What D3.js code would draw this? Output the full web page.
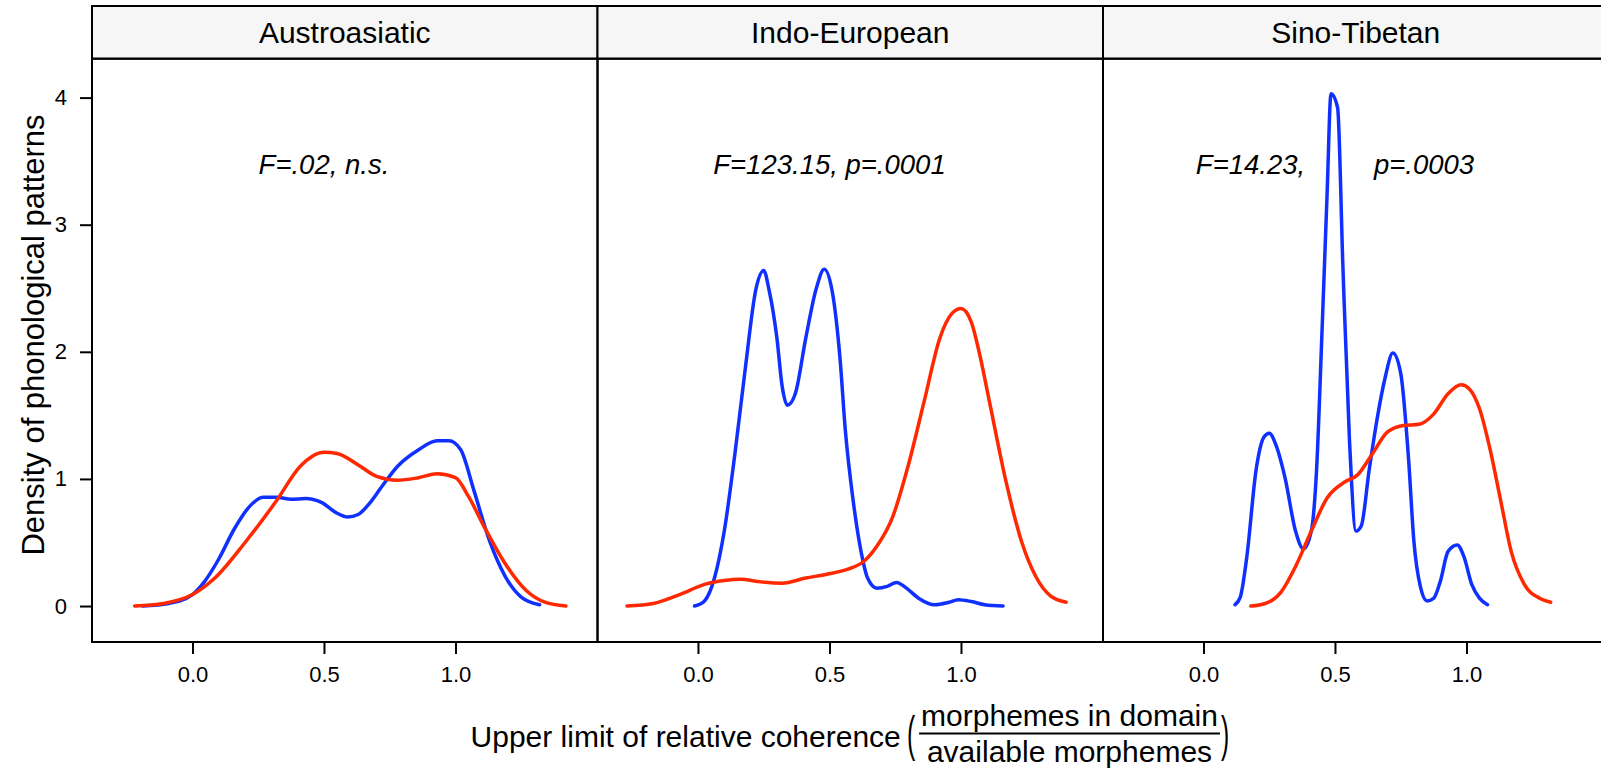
<!DOCTYPE html>
<html>
<head>
<meta charset="utf-8">
<script src="https://cdn.jsdelivr.net/npm/d3@7"></script>
<style>
  body { margin: 0; background: #fff; }
  text { font-family: "Liberation Sans", Arial, Helvetica, sans-serif; fill: #000; }
</style>
</head>
<body>
<div id="container"></div>
<script>
const WIDTH = 1601;
const HEIGHT = 770;

const PANEL_LEFT = 92;
const PANEL_W = 505.5;
const STRIP_TOP = 6;
const STRIP_H = 52.7;
const PANEL_TOP = STRIP_TOP + STRIP_H;
const PANEL_BOTTOM = 642;
const PANEL_H = PANEL_BOTTOM - PANEL_TOP;

const BLUE = "#1030ff";
const RED = "#ff2800";

// data
const families = ["Austroasiatic", "Indo-European", "Sino-Tibetan"];
const annotations = ["F=.02, n.s.", "F=123.15, p=.0001", "F=14.23,         p=.0003"];
const xTicks = [0, 0.5, 1];
const yTicks = [0, 1, 2, 3, 4];

const aaBlue = [[-0.19,0],[-0.09,0.02],[0,0.09],[0.045,0.19],[0.10,0.37],[0.16,0.61],[0.22,0.79],
  [0.27,0.855],[0.32,0.855],[0.375,0.84],[0.43,0.845],[0.49,0.815],[0.55,0.73],[0.59,0.70],
  [0.63,0.72],[0.67,0.80],[0.72,0.94],[0.78,1.10],[0.86,1.23],[0.93,1.30],[0.975,1.30],
  [1.02,1.23],[1.07,0.91],[1.13,0.51],[1.19,0.23],[1.25,0.07],[1.32,0.01]];
const aaRed = [[-0.22,0],[-0.11,0.02],[0,0.09],[0.085,0.22],[0.20,0.50],[0.32,0.83],[0.41,1.10],
  [0.50,1.21],[0.55,1.20],[0.63,1.11],[0.70,1.02],[0.78,0.99],[0.86,1.01],[0.93,1.04],[1.0,1.01],
  [1.05,0.86],[1.11,0.62],[1.19,0.33],[1.27,0.12],[1.34,0.03],[1.42,0]];

const ieBlue = [[-0.013,0],[0.025,0.04],[0.064,0.23],[0.10,0.59],[0.14,1.19],[0.18,1.87],[0.22,2.49],
  [0.25,2.64],[0.27,2.49],[0.30,2.11],[0.32,1.73],[0.34,1.58],[0.37,1.67],[0.41,2.11],[0.45,2.50],
  [0.48,2.65],[0.51,2.48],[0.54,1.95],[0.56,1.39],[0.59,0.83],[0.62,0.43],[0.645,0.22],[0.68,0.14],
  [0.72,0.155],[0.755,0.185],[0.79,0.145],[0.84,0.06],[0.90,0.01],[0.955,0.03],[0.99,0.05],
  [1.04,0.035],[1.09,0.01],[1.16,0]];
const ieRed = [[-0.27,0],[-0.17,0.02],[-0.07,0.09],[0.025,0.17],[0.10,0.20],[0.16,0.21],[0.24,0.19],
  [0.32,0.18],[0.41,0.22],[0.49,0.25],[0.57,0.29],[0.63,0.35],[0.68,0.47],[0.74,0.70],[0.80,1.11],
  [0.86,1.61],[0.92,2.11],[0.965,2.30],[1.0,2.34],[1.04,2.23],[1.07,1.99],[1.11,1.59],[1.17,0.99],
  [1.23,0.51],[1.285,0.23],[1.34,0.08],[1.40,0.03]];

const stBlue = [[0.12,0.01],[0.14,0.07],[0.165,0.39],[0.20,1.07],[0.23,1.33],[0.25,1.36],[0.275,1.27],
  [0.31,1.01],[0.35,0.59],[0.38,0.45],[0.41,0.59],[0.43,1.07],[0.45,2.12],[0.47,3.24],[0.485,4.03],
  [0.51,3.92],[0.53,2.68],[0.555,1.31],[0.58,0.59],[0.60,0.63],[0.63,1.07],[0.66,1.47],[0.69,1.79],
  [0.72,1.99],[0.75,1.83],[0.78,1.15],[0.80,0.51],[0.825,0.15],[0.85,0.04],[0.875,0.06],[0.90,0.19],
  [0.93,0.43],[0.965,0.48],[0.99,0.39],[1.02,0.17],[1.05,0.06],[1.08,0.01]];
const stRed = [[0.18,0],[0.235,0.02],[0.295,0.11],[0.35,0.31],[0.41,0.59],[0.47,0.85],[0.54,0.98],
  [0.585,1.03],[0.64,1.19],[0.70,1.37],[0.76,1.42],[0.82,1.43],[0.875,1.51],[0.93,1.67],[0.98,1.74],
  [1.01,1.71],[1.05,1.55],[1.09,1.23],[1.13,0.83],[1.17,0.43],[1.22,0.17],[1.28,0.06],[1.32,0.03]];

const blueSeries = [aaBlue, ieBlue, stBlue];
const redSeries = [aaRed, ieRed, stRed];

const xLabelMain = "Upper limit of relative coherence ";
const xLabelNum = "morphemes in domain";
const xLabelDen = "available morphemes";
const yLabel = "Density of phonological patterns";

var translate = function (x, y) {
    return "translate(" + x + "," + y + ")";
};

var createChart = function () {
    var svg = d3.select("#container")
        .append("svg")
        .attr("width", WIDTH)
        .attr("height", HEIGHT);

    var xScale = d3.scaleLinear().domain([-0.382, 1.540]).range([0, PANEL_W]);
    var yScale = d3.scaleLinear().domain([-0.283, 4.306]).range([PANEL_H, 0]);

    var line = d3.line()
        .x(function (d) { return xScale(d[0]); })
        .y(function (d) { return yScale(d[1]); })
        .curve(d3.curveMonotoneX);

    for (var i = 0; i < families.length; i++) {
        var left = PANEL_LEFT + i * PANEL_W;

        // strip
        svg.append("rect")
            .attr("x", left).attr("y", STRIP_TOP)
            .attr("width", PANEL_W).attr("height", STRIP_H)
            .attr("fill", "#f6f6f6")
            .attr("stroke", "#000").attr("stroke-width", 2);
        svg.append("text")
            .attr("x", left + PANEL_W / 2)
            .attr("y", STRIP_TOP + 37)
            .attr("text-anchor", "middle")
            .style("font-size", "30px")
            .text(families[i]);

        var g = svg.append("g").attr("transform", translate(left, PANEL_TOP));

        g.append("rect")
            .attr("width", PANEL_W).attr("height", PANEL_H)
            .attr("fill", "none")
            .attr("stroke", "#000").attr("stroke-width", 2);

        var xAxis = d3.axisBottom(xScale)
            .tickValues(xTicks)
            .tickFormat(d3.format(".1f"))
            .tickSize(12)
            .tickPadding(12);
        var ax = g.append("g")
            .attr("transform", translate(0, PANEL_H))
            .call(xAxis);
        ax.select(".domain").remove();
        ax.selectAll("line").attr("stroke", "#000").attr("stroke-width", 2);
        ax.selectAll("text").style("font-size", "22px").attr("font-family", null);

        if (i === 0) {
            var yAxis = d3.axisLeft(yScale)
                .tickValues(yTicks)
                .tickFormat(d3.format("d"))
                .tickSize(12)
                .tickPadding(13);
            var ay = g.append("g").call(yAxis);
            ay.select(".domain").remove();
            ay.selectAll("line").attr("stroke", "#000").attr("stroke-width", 2);
            ay.selectAll("text").style("font-size", "22px").attr("font-family", null);
        }

        g.append("path")
            .attr("d", line(blueSeries[i]))
            .attr("fill", "none")
            .attr("stroke", BLUE)
            .attr("stroke-width", 3.5)
            .attr("stroke-linejoin", "round")
            .attr("stroke-linecap", "round");

        g.append("path")
            .attr("d", line(redSeries[i]))
            .attr("fill", "none")
            .attr("stroke", RED)
            .attr("stroke-width", 3.5)
            .attr("stroke-linejoin", "round")
            .attr("stroke-linecap", "round");

        g.append("text")
            .attr("x", xScale(0.5))
            .attr("y", yScale(3.40))
            .attr("text-anchor", "middle")
            .style("font-size", "27.5px")
            .style("font-style", "italic")
            .style("white-space", "pre")
            .attr("xml:space", "preserve")
            .text(annotations[i]);
    }

    // y axis title
    svg.append("text")
        .attr("transform", translate(44, 335) + " rotate(-90)")
        .attr("text-anchor", "middle")
        .style("font-size", "31px")
        .text(yLabel);

    // x axis title with a fraction
    var xt = svg.append("g");
    var main = xt.append("text")
        .attr("y", 746.5)
        .style("font-size", "30px")
        .style("white-space", "pre")
        .attr("xml:space", "preserve")
        .text(xLabelMain);
    var num = xt.append("text")
        .attr("y", 726)
        .attr("text-anchor", "middle")
        .style("font-size", "30px")
        .text(xLabelNum);
    var den = xt.append("text")
        .attr("y", 761.5)
        .attr("text-anchor", "middle")
        .style("font-size", "30px")
        .text(xLabelDen);

    var wMain = main.node().getComputedTextLength();
    var wFrac = Math.max(num.node().getComputedTextLength(), den.node().getComputedTextLength()) + 4;
    var wParen = 10;
    var total = wMain + wParen + wFrac + wParen;
    var start = PANEL_LEFT + PANEL_W * 1.5 - total / 2;

    main.attr("x", start);
    var fracLeft = start + wMain + wParen;
    num.attr("x", fracLeft + wFrac / 2);
    den.attr("x", fracLeft + wFrac / 2);
    xt.append("line")
        .attr("x1", fracLeft).attr("x2", fracLeft + wFrac)
        .attr("y1", 733.5).attr("y2", 733.5)
        .attr("stroke", "#000").attr("stroke-width", 2);
    xt.append("text")
        .attr("transform", translate(start + wMain - 2, 751) + " scale(0.85,1.75)")
        .style("font-size", "29px")
        .text("(");
    xt.append("text")
        .attr("transform", translate(fracLeft + wFrac + 1, 751) + " scale(0.85,1.75)")
        .style("font-size", "29px")
        .text(")");
};

window.onload = createChart;
</script>
</body>
</html>
